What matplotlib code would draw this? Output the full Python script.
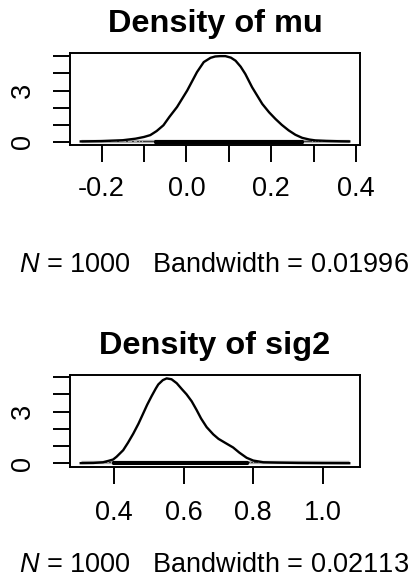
import numpy as np
import matplotlib
matplotlib.use('Agg')
import matplotlib.pyplot as plt

plt.rcParams['font.family'] = ['Liberation Sans', 'DejaVu Sans']
plt.rcParams['mathtext.fontset'] = 'custom'
plt.rcParams['mathtext.it'] = 'Liberation Sans:italic'
plt.rcParams['mathtext.rm'] = 'Liberation Sans'

# --- mu: density curve
mu_x = [-0.249, -0.20, -0.15, -0.12, -0.10, -0.085, -0.07, -0.054, -0.04, -0.022,
        0.002, 0.025, 0.041, 0.057, 0.068, 0.080, 0.092, 0.105, 0.116, 0.128,
        0.139, 0.155, 0.167, 0.179, 0.195, 0.210, 0.225, 0.241, 0.257, 0.273,
        0.290, 0.304, 0.330, 0.360, 0.384]
mu_d = [0.01, 0.03, 0.08, 0.17, 0.27, 0.38, 0.62, 0.96, 1.45, 2.03,
        3.00, 4.08, 4.67, 4.92, 5.00, 5.02, 5.02, 4.93, 4.75, 4.40,
        3.97, 3.19, 2.70, 2.21, 1.72, 1.33, 0.98, 0.66, 0.40, 0.22,
        0.12, 0.07, 0.04, 0.02, 0.01]
mu_dense = (-0.075, 0.273)
mu_tail = [-0.249, -0.21, -0.18, -0.16, -0.14, -0.125, -0.115, -0.108, -0.101,
           -0.097, -0.092, -0.088, -0.083, -0.079,
           0.279, 0.284, 0.290, 0.294, 0.300, 0.307, 0.315, 0.325, 0.340,
           0.355, 0.370, 0.384]

# --- sig2
sig_x = [0.304, 0.340, 0.368, 0.385, 0.397, 0.407, 0.426, 0.440, 0.455, 0.470,
         0.483, 0.495, 0.508, 0.520, 0.527, 0.540, 0.551, 0.565, 0.580, 0.595,
         0.608, 0.623, 0.637, 0.650, 0.666, 0.685, 0.700, 0.720, 0.742, 0.760,
         0.781, 0.800, 0.829, 0.870, 0.930, 1.000, 1.076]
sig_d = [0.01, 0.02, 0.06, 0.15, 0.22, 0.38, 0.76, 1.20, 1.72, 2.30,
         2.87, 3.40, 3.91, 4.35, 4.58, 4.83, 4.93, 4.88, 4.65, 4.30,
         4.01, 3.60, 3.10, 2.60, 2.10, 1.68, 1.42, 1.18, 0.92, 0.62,
         0.32, 0.16, 0.06, 0.04, 0.02, 0.01, 0.005]
sig_dense = (0.397, 0.781)
sig_tail = [0.304, 0.330, 0.350, 0.365, 0.378, 0.388,
            0.787, 0.795, 0.805, 0.812, 0.822, 0.835, 0.850, 0.870, 0.890,
            0.910, 0.940, 0.970, 1.000, 1.030, 1.076]

panels = [
    dict(title='Density of mu', x=mu_x, d=mu_d, dense=mu_dense, tail=mu_tail,
         xticks=[-0.2, -0.1, 0.0, 0.1, 0.2, 0.3, 0.4],
         xlabels=['-0.2', '', '0.0', '', '0.2', '', '0.4'],
         xlab='$N$ = 1000   Bandwidth = 0.01996'),
    dict(title='Density of sig2', x=sig_x, d=sig_d, dense=sig_dense, tail=sig_tail,
         xticks=[0.4, 0.6, 0.8, 1.0],
         xlabels=['0.4', '0.6', '0.8', '1.0'],
         xlab='$N$ = 1000   Bandwidth = 0.02113'),
]

W, H = 411, 577
fig = plt.figure(figsize=(W / 100, H / 100), dpi=100)

# pixel layout: (box top, box bottom, title baseline, xlab baseline, xtick pad)
layout = [(52.7, 145.0, 32, 272.0, 10),
          (375.0, 466.7, 354, 571.5, 12)]

lw = 1.4
for p, (top, bot, tb, xb, xpad) in zip(panels, layout):
    ax = fig.add_axes([70 / W, 1 - bot / H, 290 / W, (bot - top) / H])
    m = max(p['d'])
    # rug: light line under the sparse tails, dense part as a black band
    ax.hlines(0.01 * m, p['x'][0], p['x'][-1], color='#aaaaaa', lw=2.4, zorder=1)
    ax.vlines(p['tail'], 0, m / 100, color='#333333', lw=1.3, zorder=2)
    ax.fill_between(p['dense'], 0, m / 100, color='black', lw=2.2,
                    edgecolor='black', zorder=3)
    ax.plot(p['x'], p['d'], color='black', lw=1.7, zorder=4)
    ax.margins(0.04)

    ax.set_xticks(p['xticks'])
    ax.set_xticklabels(p['xlabels'])
    ax.set_yticks([0, 1, 2, 3, 4, 5])
    ax.set_yticklabels(['0', '', '', '3', '', ''], rotation=90, va='center')
    ax.tick_params(axis='both', length=12.2, width=lw, labelsize=19.5, direction='out')
    ax.tick_params(axis='x', pad=xpad)
    ax.tick_params(axis='y', pad=12)
    for s in ax.spines.values():
        s.set_linewidth(lw)

    fig.text(215 / W, 1 - tb / H, p['title'], ha='center', va='baseline',
             fontsize=23.4, fontweight='bold')
    fig.text(214 / W, 1 - xb / H, p['xlab'], ha='center', va='baseline', fontsize=19.5)

fig.savefig('out.png', dpi=100)
